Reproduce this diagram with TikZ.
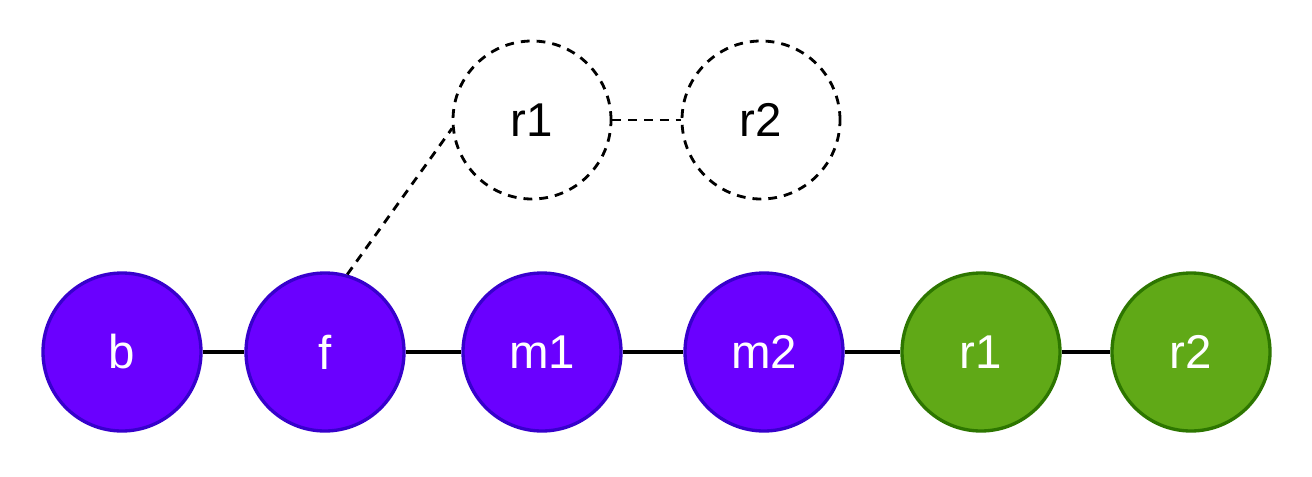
\documentclass[tikz,border=0pt]{standalone}
\usepackage{fontspec}
\setmainfont{Liberation Sans}
\usetikzlibrary{positioning}
\definecolor{mainfill}{HTML}{6A00FF}
\definecolor{maindraw}{HTML}{3700CC}
\definecolor{newfill}{HTML}{60A917}
\definecolor{newdraw}{HTML}{2D7600}

\begin{document}
\begin{tikzpicture}[
	every node/.style={font=\fontsize{27}{32}\selectfont},
	commit/.style={circle, minimum size=3.16cm, inner sep=0pt, line width=1.9pt},
	old/.style={commit, draw=maindraw, fill=mainfill, text=white},
	new/.style={commit, draw=newdraw, fill=newfill, text=white},
	ghost/.style={commit, draw=black, dash pattern=on 5pt off 4pt, line width=1.6pt},
	link/.style={line width=1.9pt},
	dlink/.style={line width=1.6pt, dash pattern=on 5pt off 4pt}
	]
	\useasboundingbox (0,0) rectangle (26.24,9.52);
	
	%--- main line ---
	\node[old] (b) at (2.44,2.48) {b};
	\node[old] (f) at (6.5,2.48) {f};
	\node[old] (m1) at (10.84,2.48) {m1};
	\node[old] (m2) at (15.28,2.48) {m2};
	\node[new] (r1) at (19.62,2.48) {r1};
	\node[new] (r2) at (23.82,2.48) {r2};
	
	%--- old commits ---
	\node[ghost] (r1top) at (10.64,7.12) {r1};
	\node[ghost] (r2top) at (15.22,7.12) {r2};
	
	%--- links ---
	\draw[link] (b) -- (f);
	\draw[link] (f) -- (m1);
	\draw[link] (m1) -- (m2);
	\draw[link] (m2) -- (r1);
	\draw[link] (r1) -- (r2);
	
	\draw[dlink] (f.74) -- (r1top.186);
	\draw[dlink] (r1top) -- (r2top);
	
\end{tikzpicture}
\end{document}
